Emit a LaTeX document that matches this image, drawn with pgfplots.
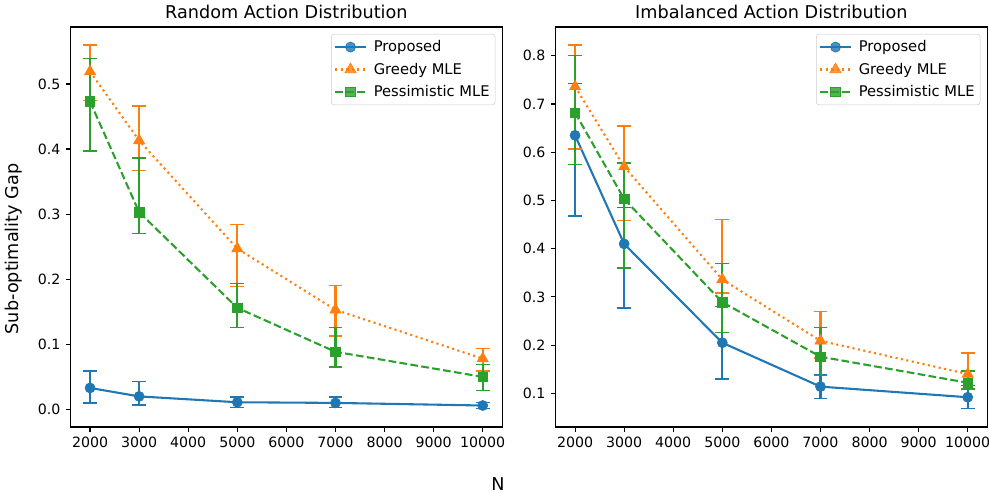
\documentclass[border=0pt]{standalone}
\usepackage{fontspec}
\setmainfont{DejaVu Sans}
\usepackage{pgfplots}
\usepackage{pgfplotstable}
\pgfplotsset{compat=1.18}
\definecolor{tabblue}{HTML}{1F77B4}
\definecolor{taborange}{HTML}{FF7F0E}
\definecolor{tabgreen}{HTML}{2CA02C}

% columns: N, mean gap, error up, error down
\pgfplotstableread{
x y ep em
2000 0.033 0.026 0.023
3000 0.020 0.023 0.013
5000 0.011 0.008 0.008
7000 0.010 0.009 0.007
10000 0.006 0.005 0.005
}\randprop
\pgfplotstableread{
x y ep em
2000 0.519 0.041 0.044
3000 0.413 0.053 0.046
5000 0.247 0.037 0.058
7000 0.153 0.037 0.040
10000 0.078 0.016 0.019
}\randgreedy
\pgfplotstableread{
x y ep em
2000 0.473 0.066 0.076
3000 0.303 0.083 0.033
5000 0.156 0.037 0.030
7000 0.0885 0.0375 0.0235
10000 0.050 0.019 0.021
}\randpess
\pgfplotstableread{
x y ep em
2000 0.635 0.108 0.167
3000 0.410 0.075 0.133
5000 0.205 0.075 0.075
7000 0.114 0.025 0.024
10000 0.092 0.024 0.023
}\imbprop
\pgfplotstableread{
x y ep em
2000 0.736 0.086 0.129
3000 0.570 0.084 0.111
5000 0.336 0.124 0.028
7000 0.209 0.061 0.036
10000 0.140 0.044 0.031
}\imbgreedy
\pgfplotstableread{
x y ep em
2000 0.682 0.118 0.107
3000 0.503 0.075 0.143
5000 0.289 0.080 0.063
7000 0.176 0.061 0.039
10000 0.122 0.024 0.013
}\imbpess

\pgfplotsset{
  panel/.style={
    scale only axis, width=311pt, height=288pt,
    anchor=south west,
    xmin=1600, xmax=10400,
    xtick={2000,3000,...,10000},
    scaled ticks=false,
    x tick label style={/pgf/number format/.cd,fixed,1000 sep={}},
    y tick label style={/pgf/number format/.cd,fixed,fixed zerofill,precision=1},
    /pgf/number format/assume math mode=true,
    tick label style={font=\fontsize{10.2}{12}\selectfont, inner sep=0pt},
    xticklabel shift=3.5pt, yticklabel shift=3.5pt,
    tick align=outside, major tick length=3.5pt,
    xtick pos=left, ytick pos=left,
    axis line style={black, line width=0.8pt},
    every tick/.style={black, line width=0.8pt},
    title style={font=\fontsize{12.7}{15}\selectfont, inner sep=0pt, anchor=south},
    legend cell align=left,
    legend style={at={(1,1)}, anchor=north east, xshift=-5pt, yshift=-5pt,
      draw=black!20, rounded corners=2pt, fill=white, fill opacity=0.8, text opacity=1,
      font=\fontsize{10.6}{12}\selectfont, inner xsep=2pt, inner ysep=2.5pt, row sep=2.6pt,
      /tikz/every odd column/.append style={column sep=3pt}},
    legend image code/.code={\draw[mark repeat=2,mark phase=2,#1]
      plot coordinates {(0pt,0pt) (11pt,0pt) (22pt,0pt)};},
    error bars/y dir=both, error bars/y explicit,
    error bars/error mark options={solid, mark size=5pt, line width=1pt, rotate=90},
    error bars/error bar style={solid, line width=1.5pt},
  },
  sprop/.style={tabblue, solid, line width=1.5pt, mark=*, mark size=3.6pt,
    mark options={solid, fill=tabblue, draw=tabblue, line width=0.5pt}},
  sgreedy/.style={taborange, line width=1.5pt, dash pattern=on 1.5pt off 2.475pt,
    mark=triangle*, mark size=4.6pt,
    mark options={solid, fill=taborange, draw=taborange, line width=0.5pt}},
  spess/.style={tabgreen, line width=1.5pt, dash pattern=on 5.55pt off 2.4pt,
    mark=square*, mark size=3.4pt,
    mark options={solid, fill=tabgreen, draw=tabgreen, line width=0.5pt}},
}

\begin{document}
\begin{tikzpicture}
\useasboundingbox (0,0) rectangle (712.08pt,354.96pt);

\begin{axis}[panel, at={(50.7pt,47.52pt)},
  ymin=-0.027, ymax=0.5875, ytick={0,0.1,...,0.5},
  title={Random Action Distribution}]
  \addplot[sprop] table[x=x, y=y, y error plus=ep, y error minus=em] {\randprop};
  \addplot[sgreedy] table[x=x, y=y, y error plus=ep, y error minus=em] {\randgreedy};
  \addplot[spess] table[x=x, y=y, y error plus=ep, y error minus=em] {\randpess};
  \legend{Proposed, Greedy MLE, Pessimistic MLE}
\end{axis}

\begin{axis}[panel, at={(399.9pt,47.52pt)},
  ymin=0.0303, ymax=0.8597, ytick={0.1,0.2,...,0.8},
  title={Imbalanced Action Distribution}]
  \addplot[sprop] table[x=x, y=y, y error plus=ep, y error minus=em] {\imbprop};
  \addplot[sgreedy] table[x=x, y=y, y error plus=ep, y error minus=em] {\imbgreedy};
  \addplot[spess] table[x=x, y=y, y error plus=ep, y error minus=em] {\imbpess};
  \legend{Proposed, Greedy MLE, Pessimistic MLE}
\end{axis}

\node[rotate=90, font=\fontsize{12.7}{15}\selectfont] at (10.1pt,175.7pt) {Sub-optimality Gap};
\node[anchor=base, font=\fontsize{12.7}{15}\selectfont] at (358.6pt,1.6pt) {N};
\end{tikzpicture}
\end{document}
